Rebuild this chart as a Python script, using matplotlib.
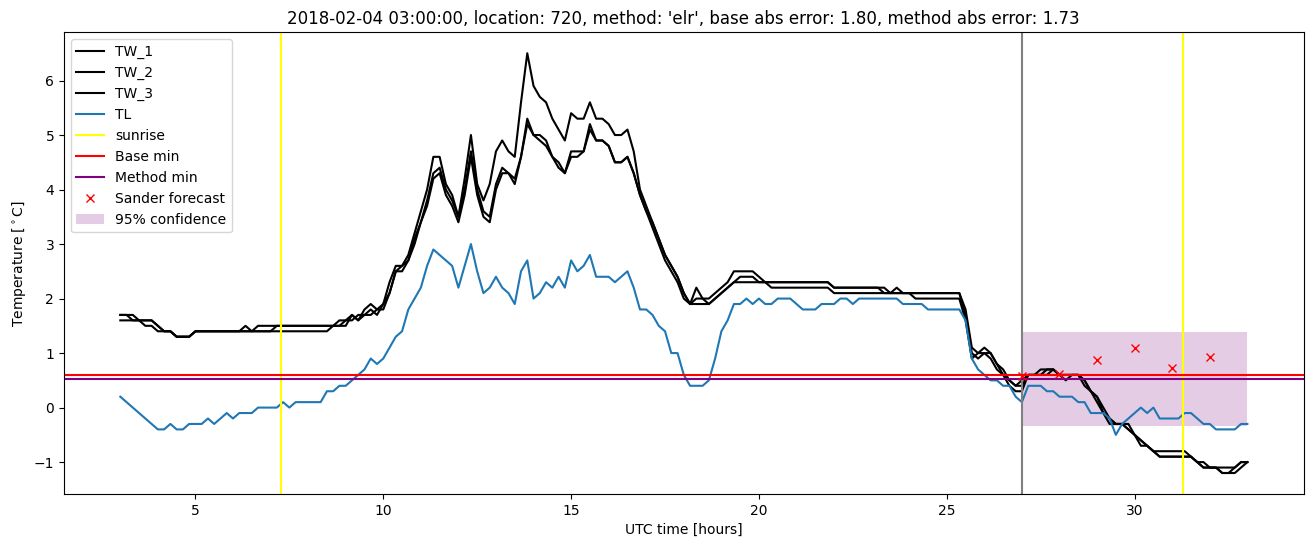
import numpy as np
import matplotlib
matplotlib.use("Agg")
import matplotlib.pyplot as plt

# ---- data (10-minute samples starting 03:00 UTC) ----
start_hour = 3.0
step_minutes = 10

TW_1 = [
    1.7, 1.7, 1.6, 1.6, 1.6, 1.6,
    1.5, 1.4, 1.4, 1.3, 1.3, 1.3,
    1.4, 1.4, 1.4, 1.4, 1.4, 1.4,
    1.4, 1.4, 1.4, 1.4, 1.5, 1.5,
    1.5, 1.5, 1.5, 1.5, 1.5, 1.5,
    1.5, 1.5, 1.5, 1.5, 1.5, 1.6,
    1.6, 1.7, 1.6, 1.8, 1.9, 1.8,
    1.9, 2.3, 2.6, 2.6, 2.8, 3.2,
    3.6, 4.0, 4.6, 4.6, 4.1, 3.9,
    3.5, 4.2, 5.0, 4.1, 3.8, 4.1,
    4.7, 4.9, 4.7, 4.6, 5.6, 6.5,
    5.9, 5.7, 5.6, 5.3, 5.1, 4.9,
    5.4, 5.3, 5.3, 5.6, 5.3, 5.3,
    5.2, 5.0, 5.0, 5.1, 4.7, 4.0,
    3.7, 3.4, 3.1, 2.8, 2.6, 2.4,
    2.1, 1.9, 2.0, 2.0, 2.0, 2.1,
    2.2, 2.3, 2.5, 2.5, 2.5, 2.5,
    2.4, 2.3, 2.3, 2.3, 2.3, 2.3,
    2.3, 2.3, 2.3, 2.3, 2.3, 2.3,
    2.2, 2.2, 2.2, 2.2, 2.2, 2.2,
    2.2, 2.2, 2.1, 2.1, 2.1, 2.1,
    2.1, 2.1, 2.1, 2.1, 2.1, 2.1,
    2.1, 2.1, 2.1, 1.8, 1.1, 1.0,
    1.1, 1.0, 0.8, 0.7, 0.5, 0.4,
    0.5, 0.6, 0.6, 0.7, 0.7, 0.7,
    0.6, 0.6, 0.6, 0.6, 0.5, 0.3,
    0.2, 0.0, -0.2, -0.3, -0.3, -0.3,
    -0.5, -0.6, -0.7, -0.8, -0.8, -0.8,
    -0.8, -0.8, -0.8, -0.9, -1.0, -1.0,
    -1.1, -1.1, -1.1, -1.1, -1.1, -1.0,
    -1.0,
]

TW_2 = [
    1.7, 1.7, 1.7, 1.6, 1.6, 1.6,
    1.5, 1.4, 1.4, 1.3, 1.3, 1.3,
    1.4, 1.4, 1.4, 1.4, 1.4, 1.4,
    1.4, 1.4, 1.5, 1.4, 1.4, 1.4,
    1.4, 1.5, 1.5, 1.5, 1.5, 1.5,
    1.5, 1.5, 1.5, 1.5, 1.5, 1.5,
    1.6, 1.6, 1.7, 1.7, 1.8, 1.7,
    1.9, 2.1, 2.5, 2.6, 2.7, 3.1,
    3.4, 3.8, 4.3, 4.4, 4.0, 3.8,
    3.5, 4.0, 4.7, 4.0, 3.6, 3.5,
    4.1, 4.4, 4.3, 4.2, 4.6, 5.3,
    5.0, 5.0, 4.9, 4.6, 4.5, 4.3,
    4.7, 4.7, 4.7, 5.2, 4.9, 4.9,
    4.8, 4.5, 4.5, 4.6, 4.3, 3.9,
    3.6, 3.4, 3.1, 2.8, 2.6, 2.4,
    2.1, 1.9, 2.2, 2.0, 1.9, 2.0,
    2.1, 2.2, 2.3, 2.4, 2.4, 2.4,
    2.3, 2.3, 2.2, 2.2, 2.2, 2.2,
    2.2, 2.2, 2.2, 2.2, 2.2, 2.2,
    2.1, 2.1, 2.1, 2.1, 2.1, 2.1,
    2.1, 2.1, 2.1, 2.1, 2.2, 2.1,
    2.1, 2.0, 2.0, 2.0, 2.0, 2.0,
    2.0, 2.0, 2.0, 1.6, 0.9, 1.0,
    1.0, 1.0, 0.8, 0.6, 0.5, 0.4,
    0.4, 0.6, 0.6, 0.6, 0.7, 0.7,
    0.6, 0.5, 0.6, 0.6, 0.5, 0.3,
    0.2, -0.1, -0.2, -0.3, -0.3, -0.4,
    -0.5, -0.6, -0.7, -0.8, -0.9, -0.9,
    -0.9, -0.9, -0.9, -0.9, -1.0, -1.1,
    -1.1, -1.1, -1.2, -1.2, -1.2, -1.1,
    -1.0,
]

TW_3 = [
    1.6, 1.6, 1.6, 1.6, 1.5, 1.5,
    1.4, 1.4, 1.4, 1.3, 1.3, 1.3,
    1.4, 1.4, 1.4, 1.4, 1.4, 1.4,
    1.4, 1.4, 1.4, 1.4, 1.4, 1.4,
    1.4, 1.4, 1.4, 1.4, 1.4, 1.4,
    1.4, 1.4, 1.4, 1.4, 1.5, 1.5,
    1.5, 1.7, 1.6, 1.7, 1.7, 1.8,
    1.8, 2.1, 2.5, 2.5, 2.7, 3.0,
    3.4, 3.7, 4.2, 4.3, 3.9, 3.7,
    3.4, 3.9, 4.6, 3.9, 3.5, 3.4,
    4.0, 4.3, 4.3, 4.1, 4.6, 5.2,
    5.0, 4.9, 4.8, 4.6, 4.4, 4.3,
    4.6, 4.6, 4.7, 5.1, 4.9, 4.9,
    4.8, 4.5, 4.5, 4.6, 4.3, 3.9,
    3.6, 3.3, 3.0, 2.7, 2.5, 2.3,
    2.0, 1.9, 1.9, 1.9, 1.9, 2.0,
    2.1, 2.2, 2.3, 2.3, 2.3, 2.3,
    2.3, 2.3, 2.3, 2.3, 2.3, 2.3,
    2.3, 2.3, 2.3, 2.3, 2.3, 2.3,
    2.2, 2.2, 2.2, 2.2, 2.2, 2.2,
    2.2, 2.2, 2.2, 2.1, 2.1, 2.1,
    2.1, 2.1, 2.1, 2.1, 2.1, 2.1,
    2.1, 2.1, 2.1, 1.7, 1.0, 0.9,
    1.0, 0.9, 0.7, 0.6, 0.4, 0.3,
    0.3, 0.6, 0.6, 0.6, 0.6, 0.7,
    0.6, 0.6, 0.6, 0.6, 0.4, 0.3,
    0.1, -0.1, -0.3, -0.3, -0.3, -0.4,
    -0.5, -0.7, -0.7, -0.8, -0.9, -0.9,
    -0.9, -0.9, -0.9, -0.9, -1.0, -1.1,
    -1.1, -1.1, -1.2, -1.2, -1.1, -1.0,
    -1.0,
]

TL = [
    0.2, 0.1, 0.0, -0.1, -0.2, -0.3,
    -0.4, -0.4, -0.3, -0.4, -0.4, -0.3,
    -0.3, -0.3, -0.2, -0.3, -0.2, -0.1,
    -0.2, -0.1, -0.1, -0.1, 0.0, 0.0,
    0.0, 0.0, 0.1, 0.0, 0.1, 0.1,
    0.1, 0.1, 0.1, 0.3, 0.3, 0.4,
    0.4, 0.5, 0.6, 0.7, 0.9, 0.8,
    0.9, 1.1, 1.3, 1.4, 1.8, 2.0,
    2.2, 2.6, 2.9, 2.8, 2.7, 2.6,
    2.2, 2.6, 3.0, 2.5, 2.1, 2.2,
    2.4, 2.2, 2.1, 1.9, 2.5, 2.7,
    2.0, 2.1, 2.3, 2.2, 2.4, 2.2,
    2.7, 2.5, 2.6, 2.8, 2.4, 2.4,
    2.4, 2.3, 2.4, 2.5, 2.2, 1.8,
    1.8, 1.7, 1.5, 1.4, 1.0, 1.0,
    0.6, 0.4, 0.4, 0.4, 0.5, 0.9,
    1.4, 1.6, 1.9, 1.9, 2.0, 1.9,
    2.0, 1.9, 1.9, 2.0, 2.0, 2.0,
    1.9, 1.8, 1.8, 1.8, 1.9, 1.9,
    1.9, 2.0, 2.0, 1.9, 2.0, 2.0,
    2.0, 2.0, 2.0, 2.0, 2.0, 1.9,
    1.9, 1.9, 1.9, 1.8, 1.8, 1.8,
    1.8, 1.8, 1.8, 1.6, 0.9, 0.7,
    0.6, 0.5, 0.5, 0.4, 0.4, 0.2,
    0.1, 0.4, 0.4, 0.4, 0.3, 0.3,
    0.2, 0.2, 0.2, 0.1, 0.1, -0.1,
    -0.1, -0.1, -0.2, -0.5, -0.3, -0.2,
    -0.1, 0.0, -0.1, 0.0, -0.2, -0.2,
    -0.2, -0.2, -0.1, -0.1, -0.2, -0.3,
    -0.3, -0.4, -0.4, -0.4, -0.4, -0.3,
    -0.3,
]

sunrise_hours = [7.29, 31.28]
forecast_start = 27.0
base_min = 0.6
method_min = 0.52
forecast_hours = [27, 28, 29, 30, 31, 32]
forecast_values = [0.58, 0.62, 0.88, 1.10, 0.73, 0.92]
conf_hours = [27, 33]
conf_lower = -0.34
conf_upper = 1.38

title = ("2018-02-04 03:00:00, location: 720, method: 'elr', "
         "base abs error: 1.80, method abs error: 1.73")

# ---- plotting ----
hours = start_hour + np.arange(len(TL)) * step_minutes / 60.0

fig = plt.figure(figsize=(13.13, 5.47), dpi=100)
ax = fig.add_axes([0.0487, 0.0969, 0.9442, 0.8441])

ax.plot(hours, TW_1, color="black", label="TW_1")
ax.plot(hours, TW_2, color="black", label="TW_2")
ax.plot(hours, TW_3, color="black", label="TW_3")
ax.plot(hours, TL, color="C0", label="TL")
for i, s in enumerate(sunrise_hours):
    ax.axvline(s, color="yellow", label="sunrise" if i == 0 else None)
ax.axvline(forecast_start, color="gray")
ax.axhline(base_min, color="red", label="Base min")
ax.axhline(method_min, color="purple", label="Method min")
ax.plot(forecast_hours, forecast_values, "x", color="red", label="Sander forecast")
ax.fill_between(conf_hours, [conf_lower] * 2, [conf_upper] * 2,
                color="purple", alpha=0.2, linewidth=0, label="95% confidence")

ax.set_title(title)
ax.set_xlabel("UTC time [hours]")
ax.set_ylabel(r"Temperature [$^\circ$C]")
ax.legend(loc="upper left")

fig.savefig("out.png", dpi=100)
